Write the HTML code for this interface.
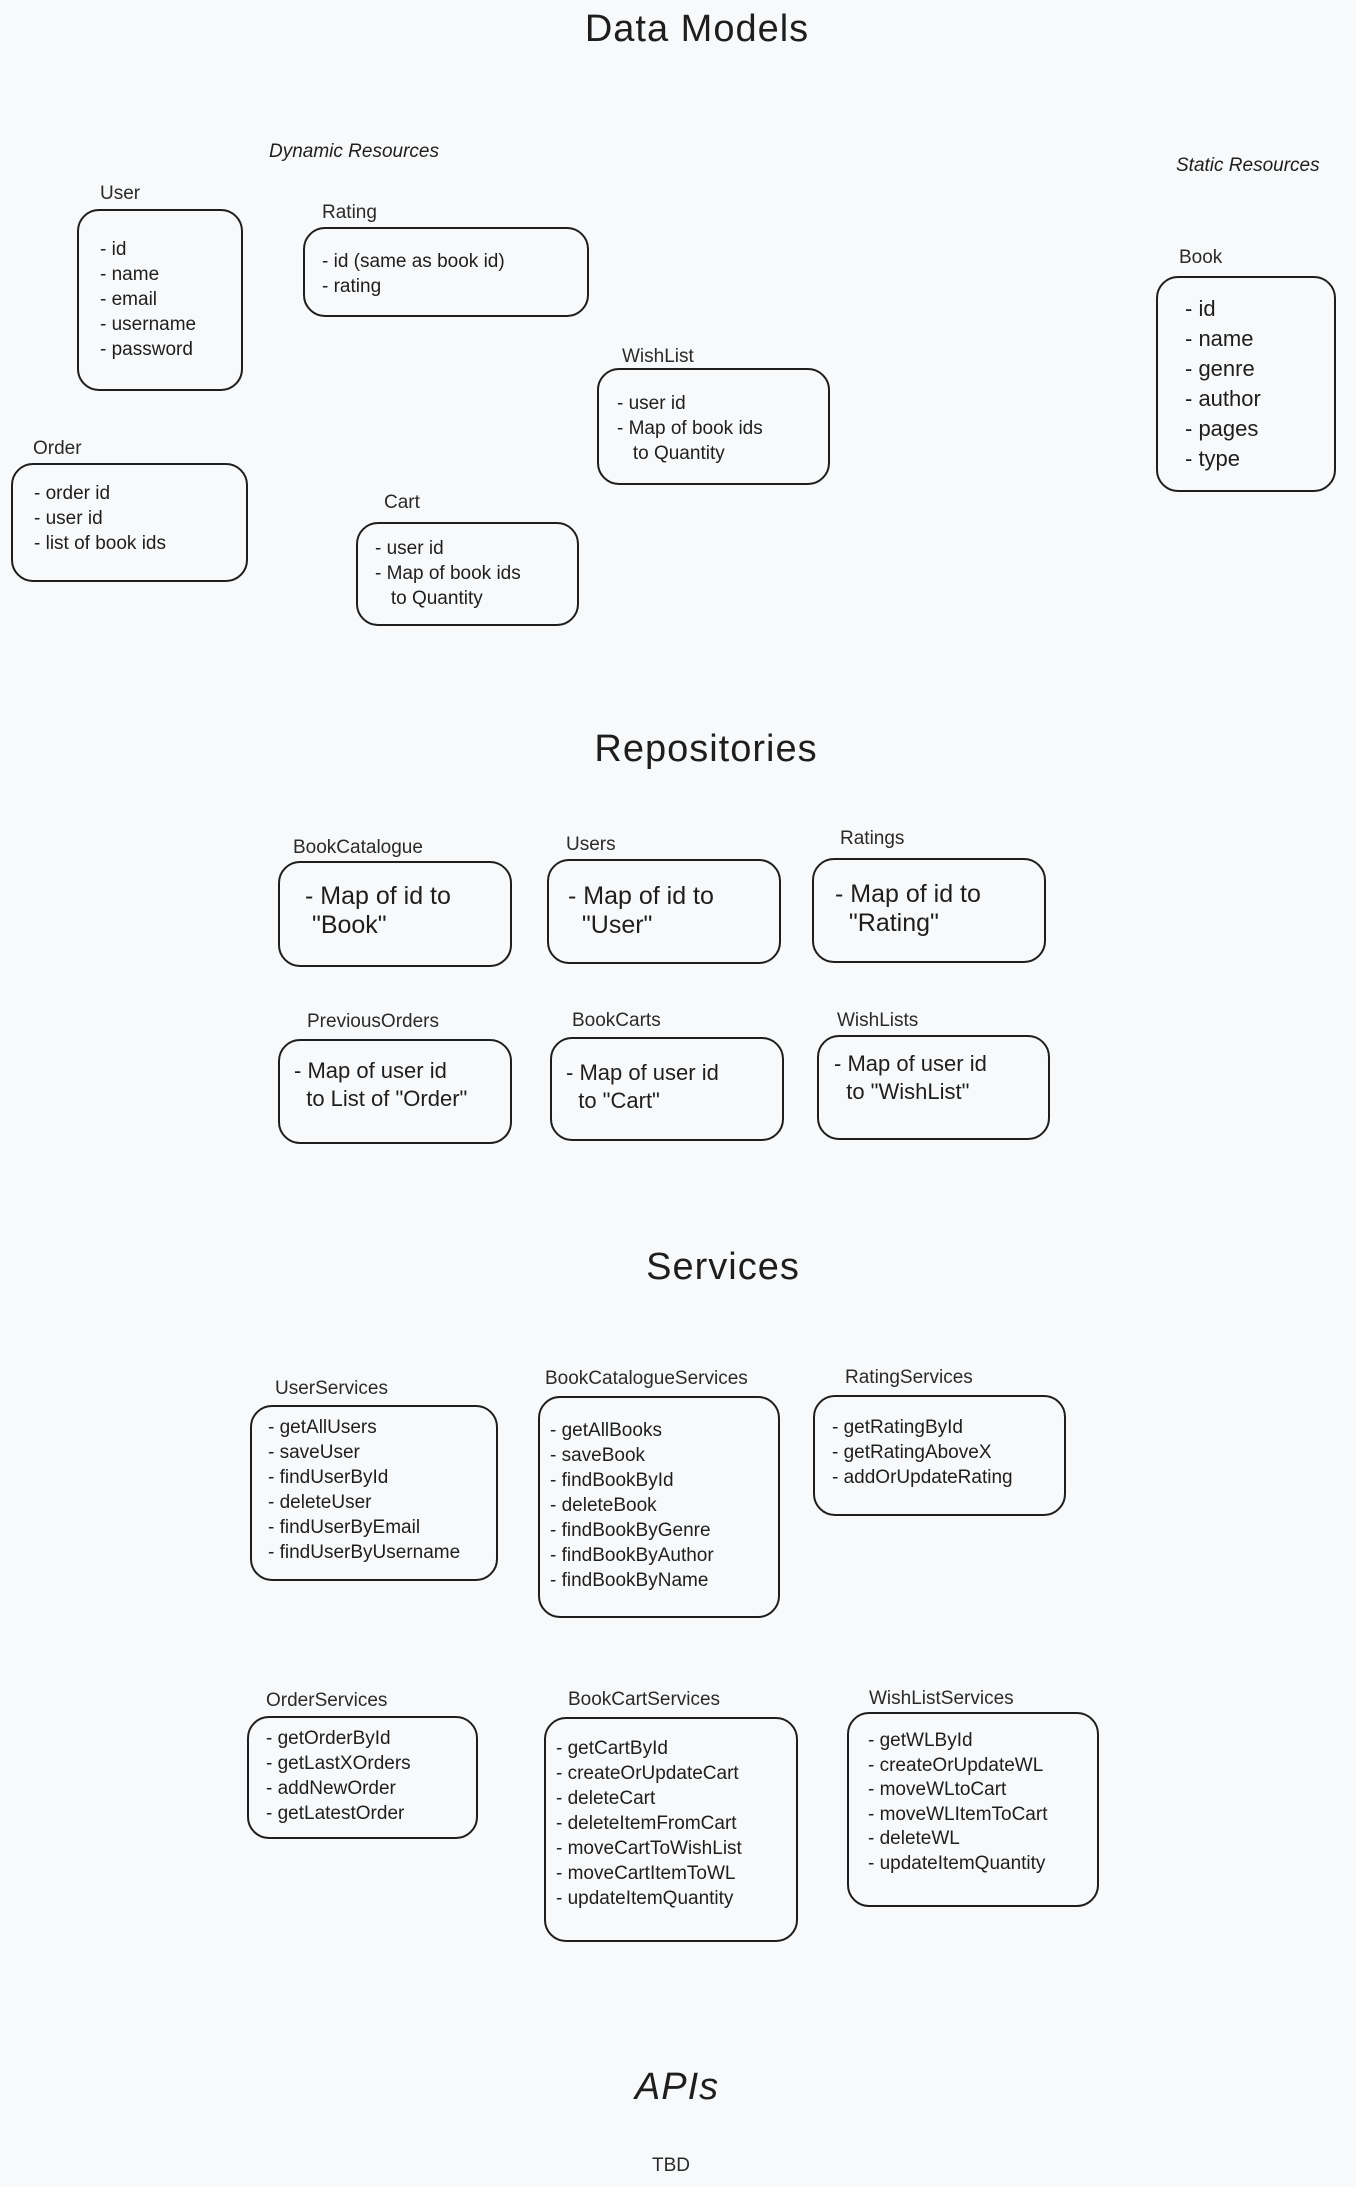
<!DOCTYPE html>
<html><head><meta charset="utf-8"><style>
body{margin:0;width:1356px;height:2187px;background:#f8f9fa;position:relative;overflow:hidden;font-family:"Liberation Sans",sans-serif;color:#1e1e1e}
.t{position:absolute;transform:translateX(-50%);font-size:38px;white-space:nowrap;letter-spacing:1px}
.l{position:absolute;font-size:19px;color:#2a2a2a;white-space:nowrap;margin-top:2px}
.h{position:absolute;font-size:19px;white-space:nowrap;font-style:italic;margin-top:2px}
.b{position:absolute;border:2px solid #1e1e1e;border-radius:22px;box-sizing:border-box}
.x{position:absolute;white-space:nowrap;font-size:19px;line-height:25px}
.r{font-size:25px;line-height:29px}
</style></head><body>
<div class="t" style="left:697px;top:8px">Data Models</div>
<div class="h" style="left:269px;top:139px">Dynamic Resources</div>
<div class="h" style="left:1176px;top:153px">Static Resources</div>

<div class="l" style="left:100px;top:181px">User</div>
<div class="b" style="left:77px;top:209px;width:166px;height:182px"></div>
<div class="x" style="left:100px;top:237px">- id<br>- name<br>- email<br>- username<br>- password</div>

<div class="l" style="left:322px;top:200px">Rating</div>
<div class="b" style="left:303px;top:227px;width:286px;height:90px"></div>
<div class="x" style="left:322px;top:249px">- id (same as book id)<br>- rating</div>

<div class="l" style="left:622px;top:344px">WishList</div>
<div class="b" style="left:597px;top:368px;width:233px;height:117px"></div>
<div class="x" style="left:617px;top:391px">- user id<br>- Map of book ids<br>&nbsp;&nbsp;&nbsp;to Quantity</div>

<div class="l" style="left:33px;top:436px">Order</div>
<div class="b" style="left:11px;top:463px;width:237px;height:119px"></div>
<div class="x" style="left:34px;top:481px">- order id<br>- user id<br>- list of book ids</div>

<div class="l" style="left:384px;top:490px">Cart</div>
<div class="b" style="left:356px;top:522px;width:223px;height:104px"></div>
<div class="x" style="left:375px;top:536px">- user id<br>- Map of book ids<br>&nbsp;&nbsp;&nbsp;to Quantity</div>

<div class="l" style="left:1179px;top:245px">Book</div>
<div class="b" style="left:1156px;top:276px;width:180px;height:216px"></div>
<div class="x" style="left:1185px;top:294px;font-size:22px;line-height:30px">- id<br>- name<br>- genre<br>- author<br>- pages<br>- type</div>

<div class="t" style="left:706px;top:728px">Repositories</div>
<div class="l" style="left:293px;top:835px">BookCatalogue</div>
<div class="b" style="left:278px;top:861px;width:234px;height:106px"></div>
<div class="x r" style="left:305px;top:882px">- Map of id to<br>&nbsp;"Book"</div>
<div class="l" style="left:566px;top:832px">Users</div>
<div class="b" style="left:547px;top:859px;width:234px;height:105px"></div>
<div class="x r" style="left:568px;top:882px">- Map of id to<br>&nbsp;&nbsp;"User"</div>
<div class="l" style="left:840px;top:826px">Ratings</div>
<div class="b" style="left:812px;top:858px;width:234px;height:105px"></div>
<div class="x r" style="left:835px;top:880px">- Map of id to<br>&nbsp;&nbsp;"Rating"</div>
<div class="l" style="left:307px;top:1009px">PreviousOrders</div>
<div class="b" style="left:278px;top:1039px;width:234px;height:105px"></div>
<div class="x" style="left:294px;top:1057px;font-size:22px;line-height:28px">- Map of user id<br>&nbsp;&nbsp;to List of "Order"</div>
<div class="l" style="left:572px;top:1008px">BookCarts</div>
<div class="b" style="left:550px;top:1037px;width:234px;height:104px"></div>
<div class="x" style="left:566px;top:1059px;font-size:22px;line-height:28px">- Map of user id<br>&nbsp;&nbsp;to "Cart"</div>
<div class="l" style="left:837px;top:1008px">WishLists</div>
<div class="b" style="left:817px;top:1035px;width:233px;height:105px"></div>
<div class="x" style="left:834px;top:1050px;font-size:22px;line-height:28px">- Map of user id<br>&nbsp;&nbsp;to "WishList"</div>

<div class="t" style="left:723px;top:1246px">Services</div>
<div class="l" style="left:275px;top:1376px">UserServices</div>
<div class="b" style="left:250px;top:1405px;width:248px;height:176px"></div>
<div class="x" style="left:268px;top:1415px">- getAllUsers<br>- saveUser<br>- findUserById<br>- deleteUser<br>- findUserByEmail<br>- findUserByUsername</div>
<div class="l" style="left:545px;top:1366px">BookCatalogueServices</div>
<div class="b" style="left:538px;top:1396px;width:242px;height:222px"></div>
<div class="x" style="left:550px;top:1418px">- getAllBooks<br>- saveBook<br>- findBookById<br>- deleteBook<br>- findBookByGenre<br>- findBookByAuthor<br>- findBookByName</div>
<div class="l" style="left:845px;top:1365px">RatingServices</div>
<div class="b" style="left:813px;top:1395px;width:253px;height:121px"></div>
<div class="x" style="left:832px;top:1415px">- getRatingById<br>- getRatingAboveX<br>- addOrUpdateRating</div>
<div class="l" style="left:266px;top:1688px">OrderServices</div>
<div class="b" style="left:247px;top:1716px;width:231px;height:123px"></div>
<div class="x" style="left:266px;top:1726px">- getOrderById<br>- getLastXOrders<br>- addNewOrder<br>- getLatestOrder</div>
<div class="l" style="left:568px;top:1687px">BookCartServices</div>
<div class="b" style="left:544px;top:1717px;width:254px;height:225px"></div>
<div class="x" style="left:556px;top:1736px">- getCartById<br>- createOrUpdateCart<br>- deleteCart<br>- deleteItemFromCart<br>- moveCartToWishList<br>- moveCartItemToWL<br>- updateItemQuantity</div>
<div class="l" style="left:869px;top:1686px">WishListServices</div>
<div class="b" style="left:847px;top:1712px;width:252px;height:195px"></div>
<div class="x" style="left:868px;top:1729px;line-height:24.5px">- getWLById<br>- createOrUpdateWL<br>- moveWLtoCart<br>- moveWLItemToCart<br>- deleteWL<br>- updateItemQuantity</div>

<div class="t" style="left:677px;top:2066px;font-style:italic">APIs</div>
<div class="l" style="left:652px;top:2153px">TBD</div>
</body></html>
